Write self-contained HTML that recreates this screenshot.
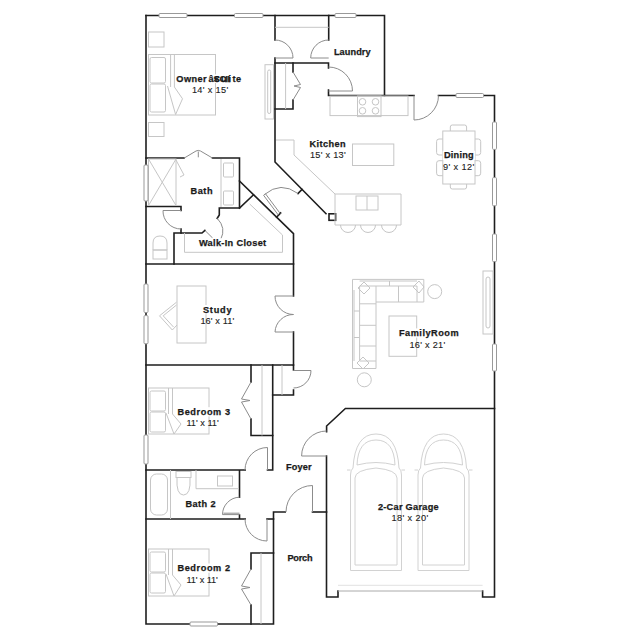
<!DOCTYPE html>
<html><head><meta charset="utf-8">
<style>
html,body{margin:0;padding:0;background:#fff;width:640px;height:640px;overflow:hidden}
svg{display:block}
.w{stroke:#1e1e1e;stroke-width:1.6;fill:none;stroke-linecap:square;stroke-linejoin:miter}
.f{stroke:#c6c6c6;stroke-width:1;fill:none}
.d{stroke:#8c8c8c;stroke-width:1;fill:none}
.win{stroke:#999;stroke-width:1;fill:#fff}
text{font-family:"Liberation Sans",sans-serif;font-size:9.2px;letter-spacing:0.4px;fill:#222;stroke:#222;stroke-width:0.12px;text-anchor:start}
.n{font-weight:bold;font-size:9.2px;letter-spacing:0.45px;fill:#1a1a1a;stroke:#1a1a1a;stroke-width:0.25px}
</style></head><body>
<svg width="640" height="640" viewBox="0 0 640 640">
<!-- WALLS -->
<g class="w">
<!-- top wall -->
<path d="M146,15.5 H384.5 V95.5"/>
<!-- left wall -->
<path d="M146,15.5 V624 H273.5 V512 H285.2"/>
<path d="M312.5,512 H326.5"/>
<!-- closet between suite and laundry -->
<path d="M275,15.5 V40"/>
<path d="M328.7,15.5 V40"/>
<path d="M275,58 V162 L326,213.7"/>
<rect x="329" y="213.8" width="6.6" height="6.5"/>
<path d="M275,63 H328.5 V68"/>
<path d="M328.5,90 V95.5 H414"/>
<!-- pantry -->
<path d="M293,63 V72"/>
<path d="M293,100 V109 H275"/>
<!-- dining / right wall -->
<path d="M438.5,95.5 H494.5 V597 H482.6 V591"/>
<path d="M338,591 V597 H326.5 V456"/>
<path d="M326.6,431.6 V426 L345.4,408.5 H494.5"/>
<!-- bath -->
<path d="M146,158 H184"/>
<path d="M212.5,158 H239.5 V208 H219.3 V215 L217.2,218.3"/>
<path d="M239.5,181 L293.5,233.6 V296"/>
<path d="M239.5,208 L253.5,194.8"/>
<path d="M146,206.5 H181 V210.5"/>
<path d="M181,229 V233"/>
<path d="M174,264 V233 H202 L204.9,230.4"/>
<!-- study -->
<path d="M146,264 H293.5"/>
<path d="M146,365 H293.5 V370"/>
<path d="M293.5,332 V365"/>
<!-- closets below study -->
<path d="M251,365 V382"/>
<path d="M251,419 V435.5 H272.7"/>
<path d="M272.7,365 V470 H267.5"/>
<path d="M272.7,395 H293.5 V390"/>
<!-- bedroom 3 / bath 2 -->
<path d="M146,470 H245.2 M239.5,470 V497.2"/>
<path d="M146,519 H245.2 M239.5,515 V519"/>
<path d="M267,519 H273.5"/>
<!-- bedroom 2 closet -->
<path d="M251,569 V553 H273.5"/>
<path d="M251,605 V624"/>
<!-- door jamb stubs on diagonals -->
<path d="M276.6,217.2 L280.6,213"/>
<path d="M302,189.5 L298,193.5"/>
</g>
<!-- FURNITURE -->
<g class="f">
<!-- owner's suite -->
<rect x="148.5" y="32" width="15.5" height="15"/>
<rect x="148.5" y="122.5" width="15.5" height="14"/>
<rect x="148.5" y="54.5" width="67" height="60.5"/>
<rect x="150" y="57.5" width="15.5" height="25.5" rx="1.5"/>
<rect x="150" y="84" width="15.5" height="28" rx="1.5"/>
<path d="M170.6,54.5 V87 M174.4,54.5 V87 M167.5,86 L175.6,114.5 M174.4,87 L182.5,98.75 L175.6,114.5"/>
<rect x="265" y="64.7" width="8.5" height="54.3"/>
<rect x="267.7" y="70" width="3" height="43.5" rx="1.5"/>
<path d="M275,27.3 H328.7"/>
<!-- pantry shelf -->
<path d="M285.6,63 V109"/>
<!-- kitchen -->
<rect x="330" y="96" width="78" height="19.6"/>
<rect x="357.5" y="96" width="23.5" height="20.6"/>
<circle cx="362.5" cy="101.8" r="3.3"/><circle cx="375.5" cy="101.8" r="3.3"/>
<circle cx="362.5" cy="110.8" r="3.3"/><circle cx="375.5" cy="110.8" r="3.3"/>
<rect x="352.5" y="144" width="41.3" height="21.5"/>
<path d="M276,140 H294 V155 L335,194 H401 V225 H335 V194"/>
<rect x="356" y="196" width="22" height="14"/>
<path d="M367,196 V210"/>
<path d="M340.5,225 A7.5,7.5 0 0 0 355.5,225 M360.5,225 A7.5,7.5 0 0 0 375.5,225 M381.5,225 A7.5,7.5 0 0 0 396.5,225"/>
<!-- dining -->
<rect x="442.8" y="131" width="32.2" height="53"/>
<path d="M450.3,131 V127 Q450.3,125 452.3,125 H464.6 Q466.6,125 466.6,127 V131"/>
<path d="M450.3,184 V187 Q450.3,189 452.3,189 H464.6 Q466.6,189 466.6,187 V184"/>
<path d="M442.8,139 H439 Q436.6,139 436.6,141.5 V152.5 Q436.6,155 439,155 H442.8"/>
<path d="M442.8,160.7 H439 Q436.6,160.7 436.6,163.2 V173.2 Q436.6,175.7 439,175.7 H442.8"/>
<path d="M475,139 H478.3 Q480.7,139 480.7,141.5 V152.5 Q480.7,155 478.3,155 H475"/>
<path d="M475,160.7 H478.3 Q480.7,160.7 480.7,163.2 V173.2 Q480.7,175.7 478.3,175.7 H475"/>
<!-- owner's bath -->
<rect x="148.5" y="159" width="27.5" height="46.5"/>
<path d="M148.5,159 L176,205.5 M176,159 L148.5,205.5"/>
<path d="M176,160 L184,175 L180,177"/>
<path d="M221,159 V207"/>
<rect x="223.5" y="163" width="10" height="14" rx="1"/>
<rect x="223.5" y="191" width="10" height="14" rx="1"/>
<!-- toilet -->
<path d="M153,250 V243 Q153,236 160,236 Q167,236 167,243 V250 Z"/>
<rect x="153" y="250" width="14" height="9"/>
<!-- walk-in closet shelf -->
<path d="M184.5,233 V252.3 H282.5 V235 L249.7,204"/>
<!-- study -->
<rect x="177" y="286" width="29" height="57"/>
<path d="M176.5,302.2 L159.5,315.8 L172.3,330 L177,325 M176.5,305 L163.2,315.8 M163.2,315.8 L173.5,327"/>
<!-- bedroom 3 -->
<rect x="148.5" y="388" width="60.5" height="46"/>
<rect x="150" y="391" width="15.5" height="20" rx="1.5"/>
<rect x="150" y="412" width="15.5" height="20" rx="1.5"/>
<path d="M168.5,388 V414 M172.5,388 V414 M166,413 L174,434 M172.5,414 L181,424 L174,434"/>
<path d="M262,365 V435.5"/>
<path d="M282,365 V395"/>
<!-- bath 2 -->
<path d="M170.5,470 V519"/>
<rect x="150.5" y="474" width="17" height="41" rx="6"/>
<rect x="176" y="471.5" width="15" height="6"/>
<path d="M177,477.5 Q176,495 183.5,495 Q191,495 190,477.5"/>
<path d="M196,470 V488.7 H239"/>
<rect x="217.5" y="476" width="15" height="10"/>
<!-- bedroom 2 -->
<rect x="148.5" y="549" width="60.5" height="47"/>
<rect x="150" y="552" width="15.5" height="20" rx="1.5"/>
<rect x="150" y="573" width="15.5" height="20" rx="1.5"/>
<path d="M168.5,549 V575 M172.5,549 V575 M166,574 L174,596 M172.5,575 L181,585 L174,596"/>
<path d="M261,553 V624"/>
<!-- family room -->
<path d="M352.5,279.4 H423.8 V302 H376 V368.5 H352.5 Z"/>
<path d="M359.6,286 H417 V302 M359.6,286 V361 H376 M359.6,281 H417 M389.5,281 V286 M354,290 V361 M354,311 H359.6 M354,337.5 H359.6"/>
<path d="M398.5,286 V302 M376,286 V302 M359.6,303.8 H376 M359.6,325.3 H376 M359.6,346 H376"/>
<path d="M358,288 L364,282 L370,288 L364,294 Z M413,287 L419,281 L424,287 L419,293 Z M357,363 L363,357 L369,363 L363,369 Z"/>
<circle cx="434.7" cy="291.6" r="7"/>
<circle cx="364.3" cy="379.8" r="7"/>
<rect x="389" y="316" width="27.7" height="40.3"/>
<rect x="483" y="271" width="10" height="63"/>
<rect x="486" y="277" width="4" height="51" rx="2"/>
<!-- garage door line -->
<path d="M338,591 H482.6" style="stroke:#aaa"/>
<path d="M338,585.3 H482.6" style="stroke:#e2e2e2"/>
<!-- cars -->
<g id="car" style="stroke:#d2d2d2">
<path d="M350.5,570.5 V475 Q350.5,470 353,468 Q355,434 376,434 Q397,434 399,468 Q401.5,470 401.5,475 V570.5 Z"/>
<path d="M355,565 V478 Q355,470 376,468 Q397,470 397,478 V565 Z"/>
<path d="M357,465 Q358,440 376,440 Q394,440 395,465 Q376,460 357,465"/>
<path d="M350.5,470 H347 M401.5,470 H405"/>
</g>
<use href="#car" x="67.5"/>
</g>
<!-- WINDOWS -->
<g class="win">
<rect x="159" y="13.5" width="28" height="4" rx="1"/>
<rect x="234.5" y="13.5" width="28.5" height="4" rx="1"/>
<rect x="335" y="13.5" width="21" height="4" rx="1"/>
<rect x="456" y="93.5" width="27.5" height="4" rx="1"/>
<rect x="492.5" y="122" width="4" height="27.4" rx="1"/>
<rect x="492.5" y="177.6" width="4" height="28.2" rx="1"/>
<rect x="492.5" y="234" width="4" height="27.6" rx="1"/>
<rect x="492.5" y="344" width="4" height="27" rx="1"/>
<rect x="144" y="165" width="4" height="36" rx="1"/>
<rect x="144" y="284" width="4" height="28.5" rx="1"/>
<rect x="144" y="315.6" width="4" height="28.2" rx="1"/>
<rect x="144" y="435" width="4" height="29" rx="1"/>
<rect x="190" y="622" width="27.5" height="4" rx="1"/>
</g>
<!-- DOORS -->
<g class="d">
<path d="M275,40 A18,18 0 0 1 293,58 H275"/>
<path d="M328.7,40 A18,18 0 0 0 310.7,58 H328.7"/>
<path d="M328.5,67 A24,24 0 0 1 352.5,91 H328.5"/>
<path d="M414,95.5 V120 A24.5,24.5 0 0 0 438.5,95.5"/>
<path d="M293,72 L300.5,84.5 L294,86 M293,100 L300.5,87.5 L294,86"/>
<path d="M184.3,158 L196,151 Q198.3,149.8 200.5,151 L212.4,158 M198.3,151.5 V157.3"/>
<path d="M163,210.5 H181 M163,210.5 A18,18 0 0 0 181,229"/>
<path d="M204.9,230.4 L212.6,238 M217.2,218.3 Q226.5,228 220.7,239.4"/>
<path d="M280.2,213.5 L265.5,193.8 M278.3,215 L263.6,195.3 L265.5,193.8"/>
<path d="M264.5,194.5 Q280.75,180.85 298,193.5"/>
<path d="M293.5,296 H275 A18.5,18.5 0 0 0 293.5,314.5 A18.5,18.5 0 0 0 275,332 H293.5"/>
<path d="M251,382 L241.5,399 L250,400.5 M251,419 L241.5,402 L250,400.5"/>
<path d="M293.5,370.5 H311 A17.5,17.5 0 0 1 293.5,388"/>
<path d="M267.5,470 V447.5 A22.5,22.5 0 0 0 245,470"/>
<path d="M239.5,514.6 H222.5 A17.5,17.5 0 0 1 239.5,497.2 M239.5,513.2 H223.5"/>
<path d="M267,519 V541 A22,22 0 0 1 245,519"/>
<path d="M312.5,512 V485.5 A26.5,26.5 0 0 0 286,512"/>
<path d="M326.6,456 H301.6 A25,25 0 0 1 326.6,431"/>
<path d="M251,569 L241.5,586 L250,587.5 M251,605 L241.5,589 L250,587.5"/>
</g>
<!-- TEXT -->
<g>
<rect x="332.5" y="47.2" width="39.0" height="9.2" fill="#fff"/>
<rect x="308.6" y="139.6" width="38.1" height="9.2" fill="#fff"/>
<rect x="442.7" y="150.8" width="32.4" height="9.2" fill="#fff"/>
<rect x="189.0" y="186.3" width="24.7" height="9.2" fill="#fff"/>
<rect x="197.7" y="238.2" width="70.3" height="9.2" fill="#fff"/>
<rect x="202.1" y="305.0" width="30.4" height="9.2" fill="#fff"/>
<rect x="397.3" y="328.4" width="62.4" height="9.2" fill="#fff"/>
<rect x="175.8" y="407.2" width="55.2" height="9.2" fill="#fff"/>
<rect x="285.1" y="462.3" width="27.6" height="9.2" fill="#fff"/>
<rect x="184.4" y="498.9" width="32.5" height="9.2" fill="#fff"/>
<rect x="175.5" y="74.4" width="68" height="8.6" fill="#fff"/>
<rect x="175.8" y="563.5" width="55.2" height="9.2" fill="#fff"/>
<rect x="285.8" y="552.9" width="28.1" height="9.2" fill="#fff"/>
<text class="n" x="176.3" y="82" style="text-anchor:start">Owner<tspan x="208.4">â</tspan><tspan x="213.6">S</tspan><tspan x="214.5">€</tspan><tspan x="219.5">C</tspan><tspan x="221">u</tspan><tspan x="225.5">I</tspan><tspan x="228.6">i</tspan><tspan x="227.5">I</tspan><tspan x="232.6">te</tspan></text>
<text class="n" x="333.90" y="54.8" textLength="37.20" lengthAdjust="spacing">Laundry</text>
<text class="n" x="309.40" y="147.2" textLength="36.70" lengthAdjust="spacing">Kitchen</text>
<text x="309.90" y="158.4" textLength="36.20" lengthAdjust="spacing">15&#39; x 13&#39;</text>
<text class="n" x="443.90" y="158.4" textLength="30.20" lengthAdjust="spacing">Dining</text>
<text x="442.90" y="169.9" textLength="31.70" lengthAdjust="spacing">9&#39; x 12&#39;</text>
<text class="n" x="190.40" y="193.9" textLength="22.70" lengthAdjust="spacing">Bath</text>
<text class="n" x="198.90" y="245.8" textLength="67.70" lengthAdjust="spacing">Walk-In Closet</text>
<text class="n" x="202.90" y="312.6" textLength="29.20" lengthAdjust="spacing">Study</text>
<text x="200.40" y="323.7" textLength="34.20" lengthAdjust="spacing">16&#39; x 11&#39;</text>
<text class="n" x="398.90" y="336.0" textLength="60.20" lengthAdjust="spacing">FamilyRoom</text>
<text x="409.40" y="347.5" textLength="36.20" lengthAdjust="spacing">16&#39; x 21&#39;</text>
<text class="n" x="177.40" y="414.8" textLength="53.20" lengthAdjust="spacing">Bedroom 3</text>
<text x="186.40" y="425.7" textLength="32.70" lengthAdjust="spacing">11&#39; x 11&#39;</text>
<text class="n" x="285.90" y="469.9" textLength="26.20" lengthAdjust="spacing">Foyer</text>
<text class="n" x="185.40" y="506.5" textLength="30.70" lengthAdjust="spacing">Bath 2</text>
<text class="n" x="377.90" y="509.9" textLength="61.20" lengthAdjust="spacing">2-Car Garage</text>
<text x="391.40" y="521.2" textLength="37.20" lengthAdjust="spacing">18&#39; x 20&#39;</text>
<text class="n" x="177.40" y="571.1" textLength="53.20" lengthAdjust="spacing">Bedroom 2</text>
<text x="186.40" y="582.6" textLength="31.70" lengthAdjust="spacing">11&#39; x 11&#39;</text>
<text class="n" x="287.40" y="560.5" textLength="25.70" lengthAdjust="spacing">Porch</text>
<text x="191.90" y="92.5" textLength="36.70" lengthAdjust="spacing">14&#39; x 15&#39;</text>
</g>
</svg>
</body></html>
